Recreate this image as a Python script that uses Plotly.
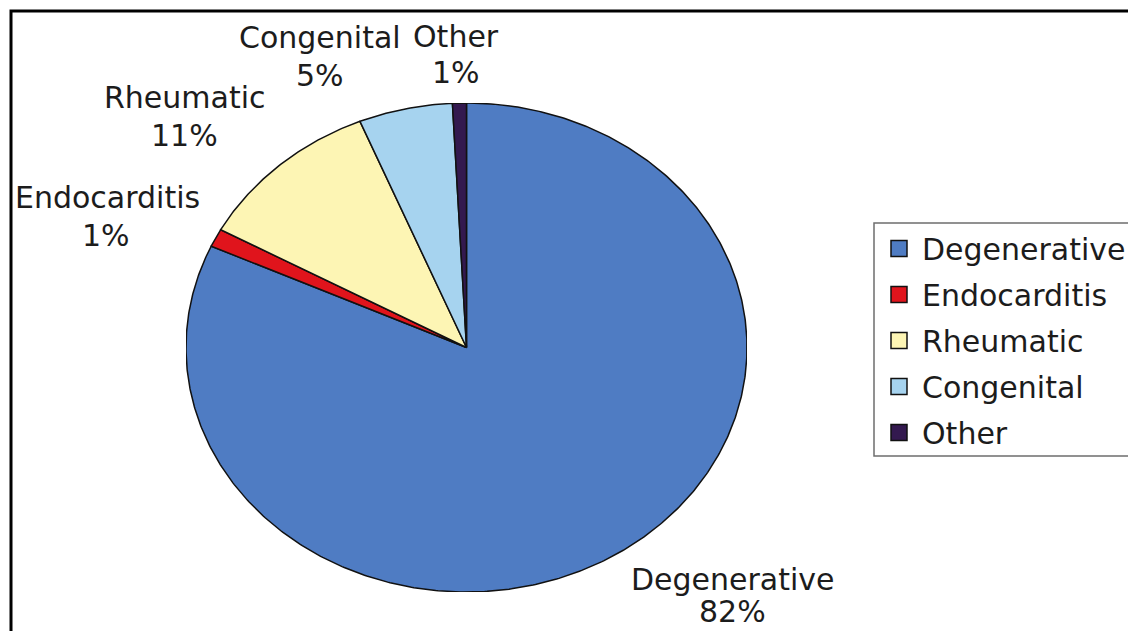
import numpy as np
import plotly.graph_objects as go

# ---- data ----
categories = ["Degenerative", "Endocarditis", "Rheumatic", "Congenital", "Other"]
values = [81.8, 1.2, 10.8, 5.4, 0.8]
colors = ["#4f7cc3", "#e0141c", "#fdf5b4", "#a6d3ef", "#33194f"]

# ---- layout geometry ----
W, H = 1128, 631
PL, PR, PT, PB = 186, 747, 103, 592          # plot-area pixel box
pw, ph = PR - PL, PB - PT

def px2paper(px, py):
    return (px - PL) / pw, (PB - py) / ph

# label centres (name line, percent line), page pixels
label_px = {
    "Degenerative": ((733, 579), (732, 611)),
    "Endocarditis": ((107, 197), (106, 235)),
    "Rheumatic": ((185, 98), (184, 135)),
    "Congenital": ((320, 38), (320, 75)),
    "Other": ((456, 37), (456, 72)),
}

FONT = "DejaVu Sans"
FS = 30
TXT = "#1c1c1c"

fig = go.Figure()

total = float(sum(values))
cum = 0.0
for name, v, c in zip(categories, values, colors):
    a0 = cum / total * 2 * np.pi
    cum += v
    a1 = cum / total * 2 * np.pi
    n = max(4, int(np.ceil((a1 - a0) / (2 * np.pi) * 720)))
    th = np.linspace(a0, a1, n)
    xs = np.concatenate([[0.0], np.sin(th), [0.0]])
    ys = np.concatenate([[0.0], np.cos(th), [0.0]])
    fig.add_trace(go.Scatter(
        x=xs, y=ys, mode="lines", fill="toself", fillcolor=c,
        line=dict(color="#111111", width=1.5), name=name,
        showlegend=False, hoverinfo="name",
    ))

# legend entries
for name, c in zip(categories, colors):
    fig.add_trace(go.Scatter(
        x=[None], y=[None], mode="markers", name=name, legendgroup=name,
        marker=dict(symbol="square", size=16, color=c,
                    line=dict(color="#111111", width=1.5)),
    ))

# labels
annotations = []
for name, v in zip(categories, values):
    pct = f"{round(v / total * 100):.0f}%"
    (nx, ny), (qx, qy) = label_px[name]
    for txt, (x, y) in ((name, px2paper(nx, ny)), (pct, px2paper(qx, qy))):
        annotations.append(dict(
            x=x, y=y, xref="paper", yref="paper", text=txt, showarrow=False,
            xanchor="center", yanchor="middle",
            font=dict(family=FONT, size=FS, color=TXT),
        ))

frame = dict(
    type="rect", xref="paper", yref="paper",
    x0=(11 - PL) / pw, x1=(1140 - PL) / pw,
    y0=(PB - 650) / ph, y1=(PB - 11) / ph,
    line=dict(color="black", width=3), fillcolor="rgba(0,0,0,0)",
    layer="above",
)
legend_box = dict(
    type="rect", xref="paper", yref="paper",
    x0=(874 - PL) / pw, x1=(1140 - PL) / pw,
    y0=(PB - 456) / ph, y1=(PB - 223) / ph,
    line=dict(color="#6e6e6e", width=1.5), fillcolor="white",
    layer="above",
)

fig.update_layout(
    width=W, height=H,
    margin=dict(l=PL, r=W - PR, t=PT, b=H - PB, pad=0, autoexpand=False),
    paper_bgcolor="white", plot_bgcolor="white",
    xaxis=dict(range=[-1, 1], visible=False, fixedrange=True),
    yaxis=dict(range=[-1, 1], visible=False, fixedrange=True),
    annotations=annotations,
    showlegend=True,
    legend=dict(
        x=(876 - PL) / pw, y=(PB - 222.5) / ph, xanchor="left", yanchor="top",
        xref="paper", yref="paper",
        borderwidth=0, bgcolor="rgba(0,0,0,0)",
        font=dict(family=FONT, size=FS, color=TXT),
        tracegroupgap=4, itemwidth=36,
        itemclick=False, itemdoubleclick=False,
    ),
    shapes=[frame, legend_box],
)

fig.write_html("out.html")
